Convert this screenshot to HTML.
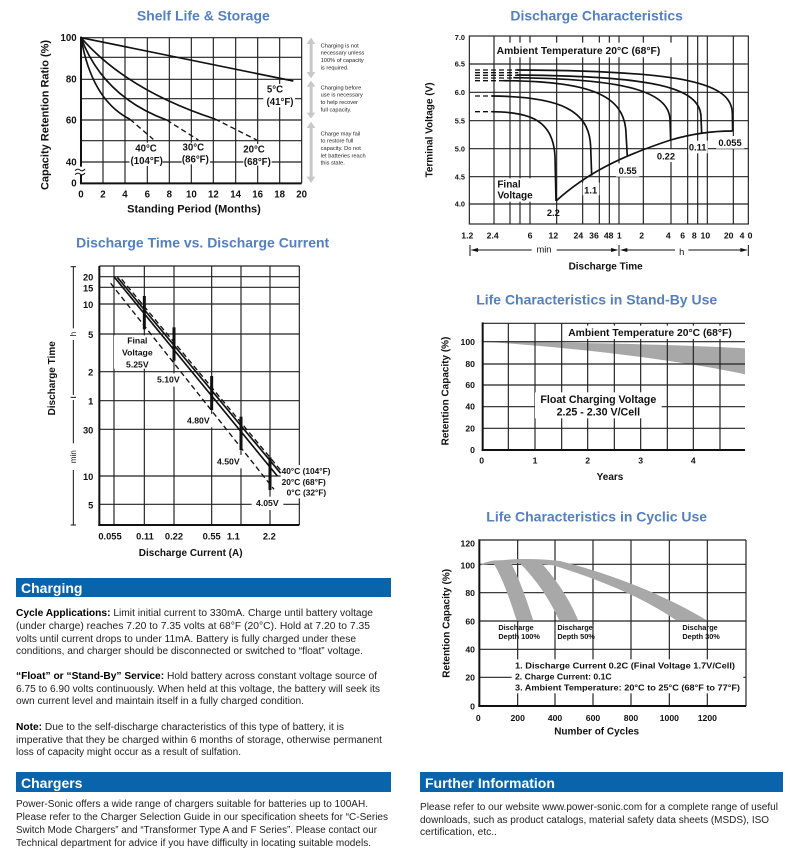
<!DOCTYPE html>
<html><head><meta charset="utf-8"><style>
html,body{margin:0;padding:0;background:#fff}
svg{display:block}
text{font-family:"Liberation Sans",Arial,sans-serif}
.t{fill:#5580bf;font-weight:bold}
.b{font-weight:bold;fill:#111}
.g{stroke:#222;stroke-width:3.5;fill:none}
.ax{stroke:#111;stroke-width:6;fill:none}
.c{stroke:#111;stroke-width:5;fill:none}
.d{stroke:#111;stroke-width:4;fill:none;stroke-dasharray:16,10}
.bt{font-size:10px;fill:#222}
</style></head><body>
<svg width="790" height="850" viewBox="0 0 790 850" xmlns="http://www.w3.org/2000/svg">

<!-- Shelf life -->
<g transform="translate(30,0) scale(0.33333)">
<text x="520" y="62" text-anchor="middle" font-size="42" class="t">Shelf Life &amp; Storage</text>
<g class="g">
<line x1="219" y1="113" x2="219" y2="550"/><line x1="285" y1="113" x2="285" y2="550"/><line x1="352" y1="113" x2="352" y2="550"/><line x1="418" y1="113" x2="418" y2="550"/><line x1="484" y1="113" x2="484" y2="550"/><line x1="550" y1="113" x2="550" y2="550"/><line x1="617" y1="113" x2="617" y2="550"/><line x1="683" y1="113" x2="683" y2="550"/><line x1="749" y1="113" x2="749" y2="550"/><line x1="815" y1="113" x2="815" y2="550"/>
<line x1="153" y1="113" x2="815" y2="113"/><line x1="153" y1="172" x2="815" y2="172"/><line x1="153" y1="238" x2="815" y2="238"/><line x1="153" y1="296" x2="815" y2="296"/><line x1="153" y1="360" x2="815" y2="360"/><line x1="153" y1="422" x2="815" y2="422"/><line x1="153" y1="486" x2="815" y2="486"/>
</g>
<line class="ax" x1="153" y1="110" x2="153" y2="552"/><line class="ax" x1="150" y1="550" x2="815" y2="550"/>
<rect x="135" y="500" width="30" height="25" fill="#fff"/>
<path d="M135,512 q8,-8 15,-2 t15,-3 M135,524 q8,-8 15,-2 t15,-3" stroke="#111" stroke-width="3" fill="none"/>
<path class="c" d="M153,113 Q450,175 790,243"/>
<path class="c" d="M153,113 Q290,270 555,357"/><path class="d" d="M555,357 L680,420"/>
<path class="c" d="M153,113 Q220,290 410,360"/><path class="d" d="M410,360 L505,420"/>
<path class="c" d="M153,113 Q185,300 300,358"/><path class="d" d="M300,358 L370,418"/>
<g fill="#fff"><rect x="700" y="252" width="95" height="70"/><rect x="298" y="428" width="100" height="70"/><rect x="455" y="428" width="85" height="65"/><rect x="640" y="432" width="85" height="65"/></g>
<g font-size="29" class="b" text-anchor="middle">
<text x="735" y="278">5°C</text><text x="750" y="315">(41°F)</text>
<text x="348" y="455">40°C</text><text x="350" y="492">(104°F)</text>
<text x="490" y="452">30°C</text><text x="496" y="488">(86°F)</text>
<text x="672" y="458">20°C</text><text x="682" y="495">(68°F)</text>
<g text-anchor="end"><text x="140" y="123">100</text><text x="140" y="248">80</text><text x="140" y="370">60</text><text x="140" y="496">40</text><text x="140" y="560">0</text></g>
<text x="153" y="592">0</text><text x="219" y="592">2</text><text x="285" y="592">4</text><text x="352" y="592">6</text><text x="418" y="592">8</text><text x="484" y="592">10</text><text x="550" y="592">12</text><text x="617" y="592">14</text><text x="683" y="592">16</text><text x="749" y="592">18</text><text x="815" y="592">20</text>
</g>
<text x="492" y="638" text-anchor="middle" font-size="33" class="b">Standing Period (Months)</text>
<text transform="translate(56,345) rotate(-90)" text-anchor="middle" font-size="33" class="b">Capacity Retention Ratio (%)</text>
<g fill="#c8c8c8">
<rect x="839" y="130" width="9" height="88"/><path d="M830,132 L843,113 L856,132Z M830,216 L843,235 L856,216Z"/>
<rect x="839" y="258" width="9" height="82"/><path d="M830,260 L843,242 L856,260Z M830,338 L843,356 L856,338Z"/>
<rect x="839" y="382" width="9" height="150"/><path d="M830,384 L843,365 L856,384Z M830,530 L843,549 L856,530Z"/>
</g>
<g font-size="17" fill="#222">
<text x="872" y="142">Charging is not</text><text x="872" y="164">necessary unless</text><text x="872" y="186">100% of capacity</text><text x="872" y="208">is required.</text>
<text x="872" y="268">Charging before</text><text x="872" y="290">use is necessary</text><text x="872" y="312">to help recover</text><text x="872" y="334">full capacity.</text>
<text x="872" y="406">Charge may fail</text><text x="872" y="428">to restore full</text><text x="872" y="450">capacity. Do not</text><text x="872" y="472">let batteries reach</text><text x="872" y="494">this state.</text>
</g>
</g>

<!-- Discharge characteristics -->
<g transform="translate(420,0) scale(0.33333)">
<text x="530" y="62" text-anchor="middle" font-size="42" class="t">Discharge Characteristics</text>
<g class="g" stroke="#333">
<line x1="222" y1="108" x2="222" y2="672"/><line x1="270" y1="108" x2="270" y2="672"/><line x1="300" y1="108" x2="300" y2="672"/><line x1="330" y1="108" x2="330" y2="672"/><line x1="410" y1="108" x2="410" y2="672"/><line x1="488" y1="108" x2="488" y2="672"/><line x1="538" y1="108" x2="538" y2="672"/><line x1="568" y1="108" x2="568" y2="672"/><line x1="597" y1="108" x2="597" y2="672"/><line x1="670" y1="108" x2="670" y2="672"/><line x1="753" y1="108" x2="753" y2="672"/><line x1="803" y1="108" x2="803" y2="672"/><line x1="833" y1="108" x2="833" y2="672"/><line x1="862" y1="108" x2="862" y2="672"/><line x1="940" y1="108" x2="940" y2="672"/>
<line x1="148" y1="192" x2="985" y2="192"/><line x1="148" y1="277" x2="985" y2="277"/><line x1="148" y1="362" x2="985" y2="362"/><line x1="148" y1="446" x2="985" y2="446"/><line x1="148" y1="530" x2="985" y2="530"/><line x1="148" y1="612" x2="985" y2="612"/>
<rect x="148" y="108" width="837" height="564"/>
</g>
<rect x="225" y="128" width="545" height="44" fill="#fff"/>
<text x="230" y="162" font-size="31" class="b">Ambient Temperature 20°C (68°F)</text>
<rect x="225" y="535" width="135" height="70" fill="#fff"/>
<text x="232" y="562" font-size="30" class="b">Final</text><text x="232" y="595" font-size="30" class="b">Voltage</text>
<g stroke="#111" stroke-width="4" stroke-dasharray="15,9">
<line x1="165" y1="210" x2="295" y2="210"/><line x1="165" y1="218" x2="295" y2="218"/><line x1="165" y1="226" x2="295" y2="226"/><line x1="165" y1="234" x2="295" y2="234"/><line x1="165" y1="242" x2="295" y2="242"/><line x1="165" y1="288" x2="215" y2="288"/><line x1="165" y1="335" x2="215" y2="335"/>
</g>
<g class="c">
<path d="M215,335 C330,336 400,360 405,470 L408,603"/>
<path d="M215,288 C420,290 508,330 512,440 L515,527"/>
<path d="M250,242 C500,244 615,280 618,400 L622,470"/>
<path d="M280,233 C600,236 748,270 750,360 L752,420"/>
<path d="M290,225 C700,228 840,262 843,350 L845,400"/>
<path d="M290,210 C800,212 935,250 937,340 L938,393"/>
<path d="M408,603 C500,520 600,470 752,420 C820,400 880,393 938,393"/>
</g>
<g fill="#fff"><rect x="488" y="548" width="50" height="38"/><rect x="588" y="490" width="70" height="40"/><rect x="705" y="448" width="70" height="38"/><rect x="805" y="422" width="58" height="38"/><rect x="888" y="408" width="85" height="38"/></g>
<g font-size="28" class="b" text-anchor="middle">
<text x="400" y="648">2.2</text><text x="512" y="580">1.1</text><text x="623" y="522">0.55</text><text x="738" y="478">0.22</text><text x="833" y="452">0.11</text><text x="930" y="438">0.055</text>
</g>
<g font-size="22" class="b" text-anchor="end">
<text x="135" y="120">7.0</text><text x="135" y="200">6.5</text><text x="135" y="285">6.0</text><text x="135" y="370">5.5</text><text x="135" y="454">5.0</text><text x="135" y="538">4.5</text><text x="135" y="620">4.0</text>
</g>
<g font-size="26" class="b" text-anchor="middle">
<text x="142" y="715">1.2</text><text x="218" y="715">2.4</text><text x="330" y="715">6</text><text x="400" y="715">12</text><text x="475" y="715">24</text><text x="522" y="715">36</text><text x="566" y="715">48</text><text x="598" y="715">1</text><text x="665" y="715">2</text><text x="745" y="715">4</text><text x="788" y="715">6</text><text x="823" y="715">8</text><text x="856" y="715">10</text><text x="926" y="715">20</text><text x="966" y="715">4</text><text x="990" y="715">0</text>
</g>
<g stroke="#111" stroke-width="3">
<line x1="150" y1="735" x2="150" y2="768"/><line x1="597" y1="735" x2="597" y2="768"/><line x1="985" y1="735" x2="985" y2="768"/>
<line x1="155" y1="750" x2="335" y2="750"/><line x1="410" y1="750" x2="590" y2="750"/><line x1="605" y1="750" x2="765" y2="750"/><line x1="805" y1="750" x2="980" y2="750"/>
</g>
<path d="M152,750 l22,-6 v12Z M595,750 l-22,-6 v12Z M600,750 l22,-6 v12Z M983,750 l-22,-6 v12Z" fill="#111"/>
<text x="372" y="758" font-size="28" text-anchor="middle" fill="#111">min</text>
<text x="785" y="765" font-size="28" text-anchor="middle" fill="#111">h</text>
<text x="557" y="808" font-size="30" class="b" text-anchor="middle">Discharge Time</text>
<text transform="translate(38,390) rotate(-90)" text-anchor="middle" font-size="30" class="b">Terminal Voltage (V)</text>
</g>

<!-- Discharge time vs current -->
<g transform="translate(40,230) scale(0.33333)">
<text x="488" y="53" text-anchor="middle" font-size="42" class="t">Discharge Time vs. Discharge Current</text>
<g class="g">
<line x1="222" y1="108" x2="222" y2="885"/><line x1="313" y1="108" x2="313" y2="885"/><line x1="402" y1="108" x2="402" y2="885"/><line x1="515" y1="108" x2="515" y2="885"/><line x1="603" y1="108" x2="603" y2="885"/><line x1="690" y1="108" x2="690" y2="885"/><line x1="778" y1="108" x2="778" y2="885"/>
<line x1="178" y1="108" x2="778" y2="108"/><line x1="178" y1="140" x2="778" y2="140"/><line x1="178" y1="172" x2="778" y2="172"/><line x1="178" y1="222" x2="778" y2="222"/><line x1="178" y1="312" x2="778" y2="312"/><line x1="178" y1="425" x2="778" y2="425"/><line x1="178" y1="512" x2="778" y2="512"/><line x1="178" y1="598" x2="778" y2="598"/><line x1="178" y1="738" x2="778" y2="738"/><line x1="178" y1="823" x2="778" y2="823"/>
</g>
<line class="ax" x1="178" y1="108" x2="178" y2="888"/><line class="ax" x1="175" y1="885" x2="778" y2="885"/>
<g stroke="#111" stroke-width="3">
<line x1="100" y1="110" x2="100" y2="295"/><line x1="100" y1="330" x2="100" y2="495"/><line x1="100" y1="510" x2="100" y2="640"/><line x1="100" y1="720" x2="100" y2="885"/>
<line x1="92" y1="110" x2="108" y2="110"/><line x1="92" y1="502" x2="108" y2="502"/><line x1="92" y1="885" x2="108" y2="885"/>
</g>
<text transform="translate(108,312) rotate(-90)" text-anchor="middle" font-size="24" fill="#111">h</text>
<text transform="translate(108,680) rotate(-90)" text-anchor="middle" font-size="24" fill="#111">min</text>
<rect x="222" y="316" width="118" height="100" fill="#fff"/>
<g fill="#fff"><rect x="345" y="430" width="85" height="40"/><rect x="435" y="552" width="85" height="40"/><rect x="525" y="675" width="85" height="40"/><rect x="635" y="800" width="95" height="40"/><rect x="722" y="705" width="165" height="100"/></g>
<path class="c" stroke-width="4" d="M222,140 L712,738"/>
<path class="c" stroke-width="4" d="M232,142 L722,730"/>
<path class="d" stroke-width="4" d="M212,160 L702,778"/>
<path class="d" stroke-width="4" d="M245,148 L728,728" stroke-dasharray="30,12"/>
<g stroke="#111" stroke-width="9">
<line x1="313" y1="198" x2="313" y2="298"/><line x1="402" y1="292" x2="402" y2="392"/><line x1="515" y1="438" x2="515" y2="540"/><line x1="603" y1="560" x2="603" y2="660"/><line x1="690" y1="682" x2="690" y2="780"/>
</g>
<g font-size="26" class="b" text-anchor="middle">
<text x="292" y="340">Final</text><text x="292" y="377">Voltage</text><text x="292" y="412">5.25V</text>
<text x="385" y="458">5.10V</text><text x="475" y="580">4.80V</text><text x="565" y="703">4.50V</text><text x="682" y="828">4.05V</text>
</g>
<g font-size="25" class="b">
<text x="725" y="732">40°C (104°F)</text><text x="725" y="765">20°C  (68°F)</text><text x="740" y="797">0°C  (32°F)</text>
</g>
<g font-size="28" class="b" text-anchor="end">
<text x="160" y="152">20</text><text x="160" y="184">15</text><text x="160" y="234">10</text><text x="160" y="324">5</text><text x="160" y="437">2</text><text x="160" y="524">1</text><text x="160" y="610">30</text><text x="160" y="750">10</text><text x="160" y="835">5</text>
</g>
<g font-size="28" class="b" text-anchor="middle">
<text x="210" y="928">0.055</text><text x="315" y="928">0.11</text><text x="402" y="928">0.22</text><text x="515" y="928">0.55</text><text x="580" y="928">1.1</text><text x="688" y="928">2.2</text>
</g>
<text x="452" y="978" font-size="30" class="b" text-anchor="middle">Discharge Current (A)</text>
<text transform="translate(45,445) rotate(-90)" text-anchor="middle" font-size="30" class="b">Discharge Time</text>
</g>

<!-- Stand-by -->
<g transform="translate(420,285) scale(0.33333)">
<text x="530" y="58" text-anchor="middle" font-size="42" class="t">Life Characteristics in Stand-By Use</text>
<path d="M188,170 C500,172 800,180 975,190 L975,268 C800,230 500,190 188,170Z" fill="#a8a8a8"/>
<g class="g">
<line x1="265" y1="115" x2="265" y2="495"/><line x1="345" y1="115" x2="345" y2="495"/><line x1="425" y1="115" x2="425" y2="495"/><line x1="503" y1="115" x2="503" y2="495"/><line x1="583" y1="115" x2="583" y2="495"/><line x1="662" y1="115" x2="662" y2="495"/><line x1="742" y1="115" x2="742" y2="495"/><line x1="820" y1="115" x2="820" y2="495"/><line x1="900" y1="115" x2="900" y2="495"/>
<line x1="188" y1="115" x2="975" y2="115"/><line x1="188" y1="170" x2="975" y2="170"/><line x1="188" y1="237" x2="975" y2="237"/><line x1="188" y1="300" x2="975" y2="300"/><line x1="188" y1="365" x2="975" y2="365"/><line x1="188" y1="430" x2="975" y2="430"/>
</g>
<line class="ax" x1="188" y1="112" x2="188" y2="498"/><line class="ax" x1="185" y1="495" x2="975" y2="495"/>
<rect x="428" y="122" width="525" height="40" fill="#fff"/>
<text x="690" y="153" font-size="31" class="b" text-anchor="middle">Ambient Temperature 20°C (68°F)</text>
<rect x="345" y="322" width="380" height="78" fill="#fff"/>
<text x="535" y="354" font-size="32" class="b" text-anchor="middle">Float Charging Voltage</text>
<text x="535" y="392" font-size="32" class="b" text-anchor="middle">2.25 - 2.30 V/Cell</text>
<g font-size="26" class="b" text-anchor="end">
<text x="165" y="180">100</text><text x="165" y="246">80</text><text x="165" y="309">60</text><text x="165" y="374">40</text><text x="165" y="439">20</text><text x="165" y="504">0</text>
</g>
<g font-size="26" class="b" text-anchor="middle">
<text x="185" y="535">0</text><text x="345" y="535">1</text><text x="503" y="535">2</text><text x="662" y="535">3</text><text x="820" y="535">4</text>
</g>
<text x="570" y="585" font-size="30" class="b" text-anchor="middle">Years</text>
<text transform="translate(85,318) rotate(-90)" text-anchor="middle" font-size="30" class="b">Retention Capacity (%)</text>
</g>

<!-- Cyclic -->
<g transform="translate(420,500) scale(0.33333)">
<text x="530" y="65" text-anchor="middle" font-size="42" class="t">Life Characteristics in Cyclic Use</text>
<g class="g">
<line x1="293" y1="120" x2="293" y2="618"/><line x1="405" y1="120" x2="405" y2="618"/><line x1="519" y1="120" x2="519" y2="618"/><line x1="633" y1="120" x2="633" y2="618"/><line x1="748" y1="120" x2="748" y2="618"/><line x1="862" y1="120" x2="862" y2="618"/><line x1="978" y1="120" x2="978" y2="618"/>
<line x1="178" y1="120" x2="978" y2="120"/><line x1="178" y1="193" x2="978" y2="193"/><line x1="178" y1="278" x2="978" y2="278"/><line x1="178" y1="363" x2="978" y2="363"/><line x1="178" y1="448" x2="978" y2="448"/><line x1="178" y1="532" x2="978" y2="532"/>
</g>
<g fill="#a8a8a8">
<path d="M180,196 C200,180 240,178 270,183 C300,240 320,300 340,362 L290,362 C270,300 250,240 222,192 C205,190 190,194 180,196Z"/>
<path d="M285,182 C320,180 340,183 365,190 C410,240 450,300 475,362 L418,362 C390,300 350,240 300,190Z"/>
<path d="M180,196 C220,176 330,172 420,183 C600,228 760,300 862,362 L770,362 C680,300 560,245 400,196 C320,186 220,188 180,196Z"/>
</g>
<line class="ax" x1="178" y1="118" x2="178" y2="620"/><line class="ax" x1="175" y1="618" x2="978" y2="618"/>
<rect x="275" y="478" width="695" height="102" fill="#fff"/>
<g font-size="26" class="b">
<text x="285" y="505" textLength="660" lengthAdjust="spacingAndGlyphs">1. Discharge Current 0.2C (Final Voltage 1.7V/Cell)</text>
<text x="285" y="538">2. Charge Current: 0.1C</text>
<text x="285" y="572" textLength="675" lengthAdjust="spacingAndGlyphs">3. Ambient Temperature: 20°C to 25°C (68°F to 77°F)</text>
</g>
<g font-size="22" class="b">
<text x="235" y="390">Discharge</text><text x="235" y="417">Depth 100%</text>
<text x="412" y="390">Discharge</text><text x="412" y="417">Depth 50%</text>
<text x="787" y="390">Discharge</text><text x="787" y="417">Depth 30%</text>
</g>
<g font-size="26" class="b" text-anchor="end">
<text x="165" y="140">120</text><text x="165" y="205">100</text><text x="165" y="288">80</text><text x="165" y="373">60</text><text x="165" y="458">40</text><text x="165" y="542">20</text><text x="165" y="628">0</text>
</g>
<g font-size="26" class="b" text-anchor="middle">
<text x="175" y="663">0</text><text x="293" y="663">200</text><text x="405" y="663">400</text><text x="519" y="663">600</text><text x="633" y="663">800</text><text x="748" y="663">1000</text><text x="862" y="663">1200</text>
</g>
<text x="530" y="703" font-size="30" class="b" text-anchor="middle">Number of Cycles</text>
<text transform="translate(88,370) rotate(-90)" text-anchor="middle" font-size="30" class="b">Retention Capacity (%)</text>
</g>

<!-- Bottom text -->
<rect x="16" y="578" width="375" height="19" fill="#0a64ab"/>
<text x="21" y="593" font-size="14" font-weight="bold" fill="#fff">Charging</text>
<g class="bt">
<text x="16" y="616" textLength="357" lengthAdjust="spacingAndGlyphs"><tspan font-weight="bold" fill="#000">Cycle Applications:</tspan> Limit initial current to 330mA. Charge until battery voltage</text>
<text x="16" y="629" textLength="354" lengthAdjust="spacingAndGlyphs">(under charge) reaches 7.20  to 7.35 volts at 68°F (20°C). Hold at 7.20 to 7.35</text>
<text x="16" y="642" textLength="340" lengthAdjust="spacingAndGlyphs">volts until current drops to under 11mA. Battery is fully charged under these</text>
<text x="16" y="654" textLength="347" lengthAdjust="spacingAndGlyphs">conditions, and charger should be disconnected or switched to “float” voltage.</text>
<text x="16" y="679" textLength="361" lengthAdjust="spacingAndGlyphs"><tspan font-weight="bold" fill="#000">“Float” or “Stand-By” Service:</tspan> Hold battery across constant voltage source of</text>
<text x="16" y="692" textLength="364" lengthAdjust="spacingAndGlyphs">6.75 to 6.90 volts continuously. When held at this voltage, the battery will seek its</text>
<text x="16" y="704" textLength="288" lengthAdjust="spacingAndGlyphs">own current level and maintain itself in a fully charged condition.</text>
<text x="16" y="730" textLength="328" lengthAdjust="spacingAndGlyphs"><tspan font-weight="bold" fill="#000">Note:</tspan> Due to the self-discharge characteristics of this type of battery, it is</text>
<text x="16" y="743" textLength="366" lengthAdjust="spacingAndGlyphs">imperative that they be charged within 6 months of storage, otherwise permanent</text>
<text x="16" y="755" textLength="225" lengthAdjust="spacingAndGlyphs">loss of capacity might occur as a result of sulfation.</text>
</g>
<rect x="16" y="772" width="375" height="20" fill="#0a64ab"/>
<text x="21" y="788" font-size="14" font-weight="bold" fill="#fff">Chargers</text>
<g class="bt">
<text x="16" y="807" textLength="352" lengthAdjust="spacingAndGlyphs">Power-Sonic offers a wide range of chargers suitable for batteries up to 100AH.</text>
<text x="16" y="820" textLength="372" lengthAdjust="spacingAndGlyphs">Please refer to the Charger Selection Guide in our specification sheets for “C-Series</text>
<text x="16" y="833" textLength="361" lengthAdjust="spacingAndGlyphs">Switch Mode Chargers” and “Transformer Type A and F Series”. Please contact our</text>
<text x="16" y="846" textLength="355" lengthAdjust="spacingAndGlyphs">Technical department for advice if you have difficulty in locating suitable models.</text>
</g>
<rect x="420" y="772" width="363" height="20" fill="#0a64ab"/>
<text x="425" y="788" font-size="14" font-weight="bold" fill="#fff">Further Information</text>
<g class="bt">
<text x="420" y="810" textLength="358" lengthAdjust="spacingAndGlyphs">Please refer to our website www.power-sonic.com for a complete range of useful</text>
<text x="420" y="823" textLength="349" lengthAdjust="spacingAndGlyphs">downloads, such as product catalogs, material safety data sheets (MSDS), ISO</text>
<text x="420" y="835" textLength="77" lengthAdjust="spacingAndGlyphs">certification, etc..</text>
</g>
</svg>
</body></html>
